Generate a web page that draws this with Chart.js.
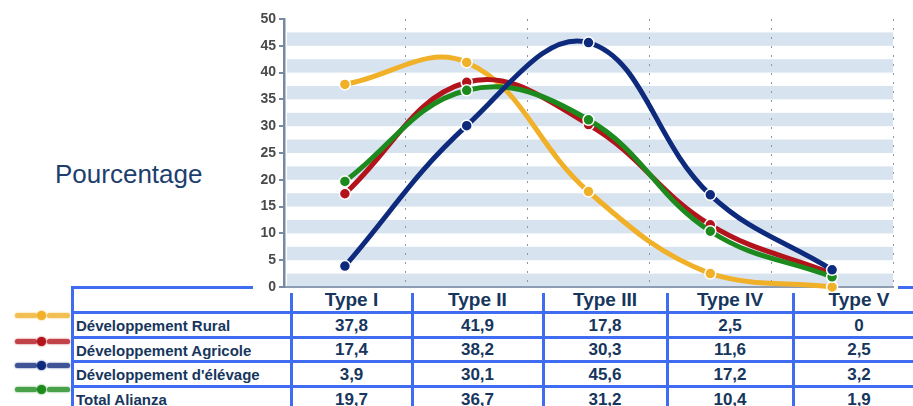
<!DOCTYPE html>
<html>
<head>
<meta charset="utf-8">
<script src="https://cdn.jsdelivr.net/npm/chart.js@4/dist/chart.umd.min.js"></script>
<style>
  html, body { margin: 0; padding: 0; background: #fff; overflow: hidden; }
  #wrap { position: relative; width: 913px; height: 406px; overflow: hidden; font-family: Arial, "Liberation Sans", sans-serif; }
  #c { position: absolute; left: 0; top: 0; z-index: 2; }
  .ln { position: absolute; background: #3f6cf0; }
  .cell { position: absolute; display: flex; align-items: center; color: #17365d; font-weight: bold; white-space: nowrap; }
  .ctr { justify-content: center; }
  .ytitle { position: absolute; left: 55px; top: 159px; font-size: 26px; color: #1d3f6e; }
  .ico { position: absolute; width: 58px; height: 12px; }
  .ico .d { position: absolute; top: 3.5px; height: 5px; border-radius: 3px; opacity: 0.8; }
  .ico .p { position: absolute; top: 1.5px; width: 9px; height: 9px; border-radius: 50%; }
</style>
</head>
<body>
<div id="wrap">
  <div class="ytitle">Pourcentage</div>
  <canvas id="c" width="913" height="406"></canvas>
</div>
<script>
const categories = ['Type I', 'Type II', 'Type III', 'Type IV', 'Type V'];
const seriesNames = ['Développement Rural', 'Développement Agricole', "Développement d'élévage", 'Total Alianza'];
const devRural = [37.8, 41.9, 17.8, 2.5, 0];
const devAgricole = [17.4, 38.2, 30.3, 11.6, 2.5];
const devElevage = [3.9, 30.1, 45.6, 17.2, 3.2];
const totalAlianza = [19.7, 36.7, 31.2, 10.4, 1.9];
const yTicks = [0, 5, 10, 15, 20, 25, 30, 35, 40, 45, 50];

const seriesValues = [devRural, devAgricole, devElevage, totalAlianza];
const colors = ['#f0b028', '#b3141c', '#0e2a7c', '#1c8a1c'];
const drawOrder = [4, 3, 1, 2];

// ---- table (HTML) ----
const wrap = document.getElementById('wrap');
function add(cls, style, text) {
  const d = document.createElement('div');
  d.className = cls;
  Object.assign(d.style, style);
  if (text !== undefined) d.textContent = text;
  wrap.appendChild(d);
  return d;
}
const colX = [291, 412, 543, 667, 793, 925];
const rowY = [287, 312, 337, 361, 386, 411];
const iconY = [315, 341, 365, 389];
// borders
add('ln', {left: '71px', top: '286px', width: '182px', height: '3px'});
add('ln', {left: '898px', top: '286px', width: '15px', height: '3px'});
add('ln', {left: '71px', top: '286px', width: '3px', height: '120px'});
for (let i = 0; i < 5; i++) add('ln', {left: (colX[i] - 1.5) + 'px', top: '293px', width: '3px', height: '113px'});
for (let r = 1; r < 5; r++) add('ln', {left: '71px', top: (rowY[r] - 1.5) + 'px', width: '842px', height: '3px'});
// header
categories.forEach((c, i) => add('cell ctr', {left: colX[i] + 'px', width: (colX[i+1] - colX[i]) + 'px', top: rowY[0] + 'px', height: (rowY[1] - rowY[0]) + 'px', fontSize: '19px'}, c));
// rows
seriesNames.forEach((n, r) => {
  const top = rowY[r+1], h = rowY[r+2] - rowY[r+1];
  add('cell', {left: '76px', top: (top + 1) + 'px', height: h + 'px', fontSize: '15px'}, n);
  seriesValues[r].forEach((v, i) => add('cell ctr', {left: colX[i] + 'px', width: (colX[i+1] - colX[i]) + 'px', top: (top + 1) + 'px', height: h + 'px', fontSize: '17px'}, String(v).replace('.', ',')));
  const ic = add('ico', {left: '14px', top: (iconY[r] - 6) + 'px'});
  const l = document.createElement('div'); l.className = 'd'; Object.assign(l.style, {left: '1px', width: '22px', background: colors[r], boxShadow: '0 0 2px ' + colors[r]});
  const p = document.createElement('div'); p.className = 'p'; Object.assign(p.style, {left: '22.5px', background: colors[r], boxShadow: '0 0 2px ' + colors[r]});
  const rr = document.createElement('div'); rr.className = 'd'; Object.assign(rr.style, {left: '33px', width: '23px', background: colors[r], boxShadow: '0 0 2px ' + colors[r]});
  ic.appendChild(l); ic.appendChild(rr); ic.appendChild(p);
});

// ---- chart ----
const stripes = {
  id: 'stripes',
  beforeDraw(chart) {
    const {ctx, chartArea: a, scales: {y}} = chart;
    ctx.save();
    ctx.fillStyle = '#fff';
    ctx.fillRect(a.left - 30, a.top - 12, a.right - a.left + 35, a.bottom - a.top + 14);
    ctx.fillStyle = '#d8e3f0';
    for (let v = 0; v < 50; v += 5) {
      const y1 = y.getPixelForValue(v + 2.5), y0 = y.getPixelForValue(v);
      ctx.fillRect(a.left + 3, y1, a.right - a.left - 3, y0 - y1);
    }
    ctx.restore();
  }
};

new Chart(document.getElementById('c'), {
  type: 'line',
  data: {
    labels: categories,
    datasets: seriesNames.map((n, i) => ({
      label: n,
      data: seriesValues[i],
      borderColor: colors[i],
      backgroundColor: colors[i],
      pointBackgroundColor: colors[i],
      pointBorderColor: '#ffffff',
      pointBorderWidth: 1.5,
      pointRadius: 5.5,
      borderWidth: 5,
      tension: 0.4,
      fill: false,
      clip: false,
      order: drawOrder[i]
    }))
  },
  options: {
    responsive: false,
    animation: false,
    devicePixelRatio: 1,
    layout: { padding: { left: 240, right: 20, top: 19, bottom: 119 } },
    plugins: { legend: { display: false }, tooltip: { enabled: false } },
    scales: {
      x: {
        offset: true,
        grid: { offset: true, color: '#8c95a3', lineWidth: 1, drawTicks: false },
        border: { display: true, color: '#8f9db2', width: 2, dash: [2, 7] },
        ticks: { display: false },
        afterFit(s) { s.height = 0; }
      },
      y: {
        min: 0, max: 50,
        afterBuildTicks(s) { s.ticks = yTicks.map(v => ({value: v})); },
        grid: { drawOnChartArea: false, drawTicks: true, tickLength: 5, color: '#7889a3', lineWidth: 2 },
        border: { display: true, color: '#7889a3', width: 2.5 },
        ticks: { color: '#4a4a4a', font: { family: 'Arial, "Liberation Sans"', size: 14, weight: 'bold' }, padding: 3 },
        afterFit(s) { s.width = 44; }
      }
    }
  },
  plugins: [stripes]
});
</script>
</body>
</html>
